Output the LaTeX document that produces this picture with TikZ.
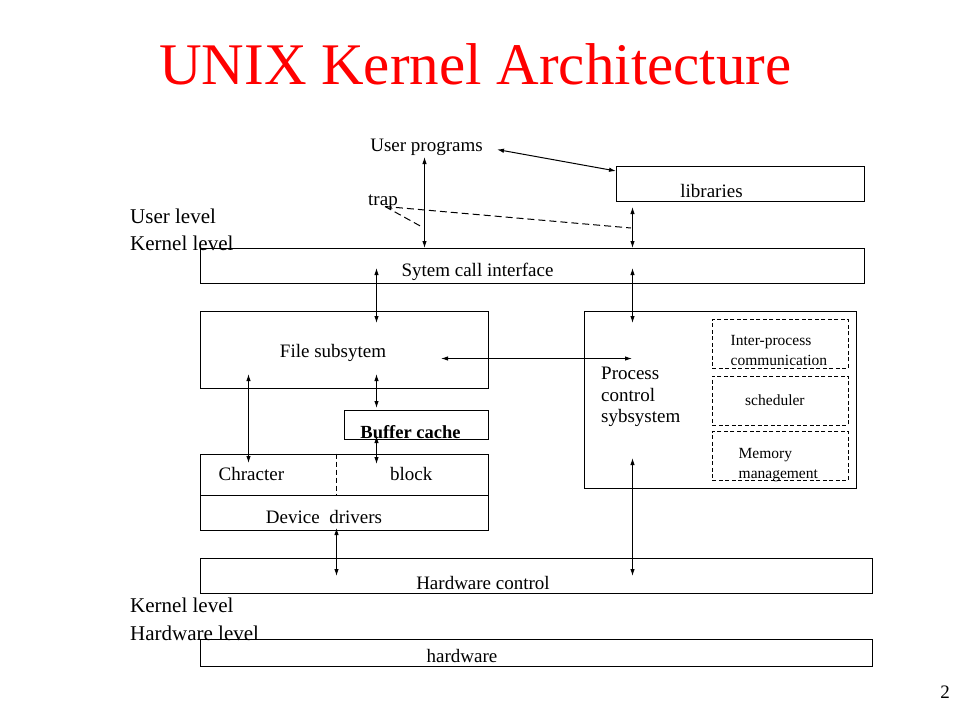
\documentclass[tikz,border=0pt]{standalone}
\usepackage{fontspec}
\setmainfont{Liberation Serif}
\usetikzlibrary{arrows.meta,calc}
\begin{document}
\begin{tikzpicture}[x=1pt,y=-1pt,
  box/.style={draw, line width=1pt, anchor=north west, inner sep=0pt},
  dbox/.style={draw, line width=0.9pt, dash pattern=on 4pt off 2.5pt, anchor=north west, inner sep=0pt},
  lbl/.style={anchor=base, inner sep=0pt, font=\fontsize{19}{22}\selectfont},
  lblw/.style={anchor=base west, inner sep=0pt, font=\fontsize{19}{22}\selectfont},
  lvl/.style={anchor=base west, inner sep=0pt, font=\fontsize{21}{24}\selectfont},
  sml/.style={anchor=base west, inner sep=0pt, font=\fontsize{15.5}{18}\selectfont},
  conn/.style={line width=1pt, {Latex[length=7pt,width=4.5pt]}-{Latex[length=7pt,width=4.5pt]}},
  trapline/.style={line width=1pt, dash pattern=on 7pt off 4pt}]
\useasboundingbox (0,0) rectangle (960,720);

% title
\node[anchor=base west, inner sep=0pt, text={rgb,255:red,255;green,0;blue,0}, font=\fontsize{59}{62}\selectfont] (title) at (159,84) {UNIX Kernel Architecture};

% boxes
\node[box, minimum width=248pt, minimum height=35pt] (lib) at (616,166) {};
\node[box, minimum width=664pt, minimum height=35pt] (sci) at (200,248) {};
\node[box, minimum width=288pt, minimum height=77pt] (fs) at (200,311) {};
\node[box, minimum width=272pt, minimum height=177pt] (pcs) at (584,311) {};
\node[dbox, minimum width=136pt, minimum height=49pt] (ipc) at (712,319) {};
\node[dbox, minimum width=136pt, minimum height=49pt] (sch) at (712,375.5) {};
\node[dbox, minimum width=136pt, minimum height=49pt] (mem) at (712,431) {};
\node[box, minimum width=144pt, minimum height=29pt] (bc) at (344,410) {};
\node[box, minimum width=288pt, minimum height=41.5pt] (cb) at (200,453.5) {};
\node[box, minimum width=288pt, minimum height=35pt] (dd) at (200,495) {};
\node[box, minimum width=672pt, minimum height=35pt] (hc) at (200,558) {};
\node[box, minimum width=672pt, minimum height=27pt] (hw) at (200,639) {};
\draw[line width=0.9pt, dash pattern=on 5pt off 3pt] ($(cb.north west)+(136.5,0)$) -- ($(cb.south west)+(136.5,0)$);

% labels
\node[lbl] (up) at (426.5,151) {User programs};
\node[lblw] (trap) at (368,205.5) {trap};
\node[lbl] (libt) at (711.5,197.5) {libraries};
\node[lbl] (scit) at (477.5,276.5) {Sytem call interface};
\node[lbl] (fst) at (333,357.5) {File subsytem};
\node[lblw] (p1) at (601,379) {Process};
\node[lblw] (p2) at (601,401) {control};
\node[lblw] (p3) at (601,422.5) {sybsystem};
\node[sml] (ipc1) at (730.5,345.5) {Inter-process};
\node[sml] (ipc2) at (730.5,365) {communication};
\node[sml] (scht) at (745,405.5) {scheduler};
\node[sml] (mem1) at (738.5,458.5) {Memory};
\node[sml] (mem2) at (738.5,478) {management};
\node[lbl, font=\fontsize{18.5}{22}\selectfont\bfseries] (bct) at (410.5,438) {Buffer cache};
\node[lblw] (cht) at (218.5,480.5) {Chracter};
\node[lblw] (blt) at (390,480.5) {block};
\node[lbl] (ddt) at (324,523) {Device\ \ drivers};
\node[lbl] (hct) at (483,589.5) {Hardware control};
\node[lbl] (hwt) at (462,662) {hardware};
\node[lvl] (ul) at (130,223.5) {User level};
\node[lvl] (kl1) at (130,250.5) {Kernel level};
\node[lvl] (kl2) at (130,612) {Kernel level};
\node[lvl] (hl) at (130,640.5) {Hardware level};
\node[anchor=base, inner sep=0pt, font=\fontsize{19}{22}\selectfont] (pg) at (945,698) {2};

% connector end points
\coordinate (c1a) at (497,149.5);   \coordinate (c1b) at (616,171);
\coordinate (c2a) at (424.5,157);   \coordinate (c2b) at (424.5,248);
\coordinate (c3a) at (632.5,207);   \coordinate (c3b) at (632.5,248);
\coordinate (c4a) at (376.5,268);   \coordinate (c4b) at (376.5,323);
\coordinate (c5a) at (632.5,268);   \coordinate (c5b) at (632.5,323);
\coordinate (c6a) at (441,358.5); \coordinate (c6b) at (632,358.5);
\coordinate (c7a) at (248.5,374);   \coordinate (c7b) at (248.5,463);
\coordinate (c8a) at (376.5,374);   \coordinate (c8b) at (376.5,408);
\coordinate (c9a) at (376.5,436);   \coordinate (c9b) at (376.5,464);
\coordinate (c10a) at (336.5,528);  \coordinate (c10b) at (336.5,576);
\coordinate (c11a) at (632.5,458);  \coordinate (c11b) at (632.5,576);
\coordinate (t0) at (385,206.5);
\coordinate (t1) at (423,227.5);
\coordinate (t2) at (631,228);

% connectors
\draw[conn] (c1a) -- (c1b);
\draw[conn] (c2a) -- (c2b);
\draw[conn] (c3a) -- (c3b);
\draw[conn] (c4a) -- (c4b);
\draw[conn] (c5a) -- (c5b);
\draw[conn] (c6a) -- (c6b);
\draw[conn] (c7a) -- (c7b);
\draw[conn] (c8a) -- (c8b);
\draw[conn] (c9a) -- (c9b);
\draw[conn] (c10a) -- (c10b);
\draw[conn] (c11a) -- (c11b);
\draw[trapline] (t0) -- (t1);
\draw[trapline] (t0) -- (t2);
\end{tikzpicture}
\end{document}
